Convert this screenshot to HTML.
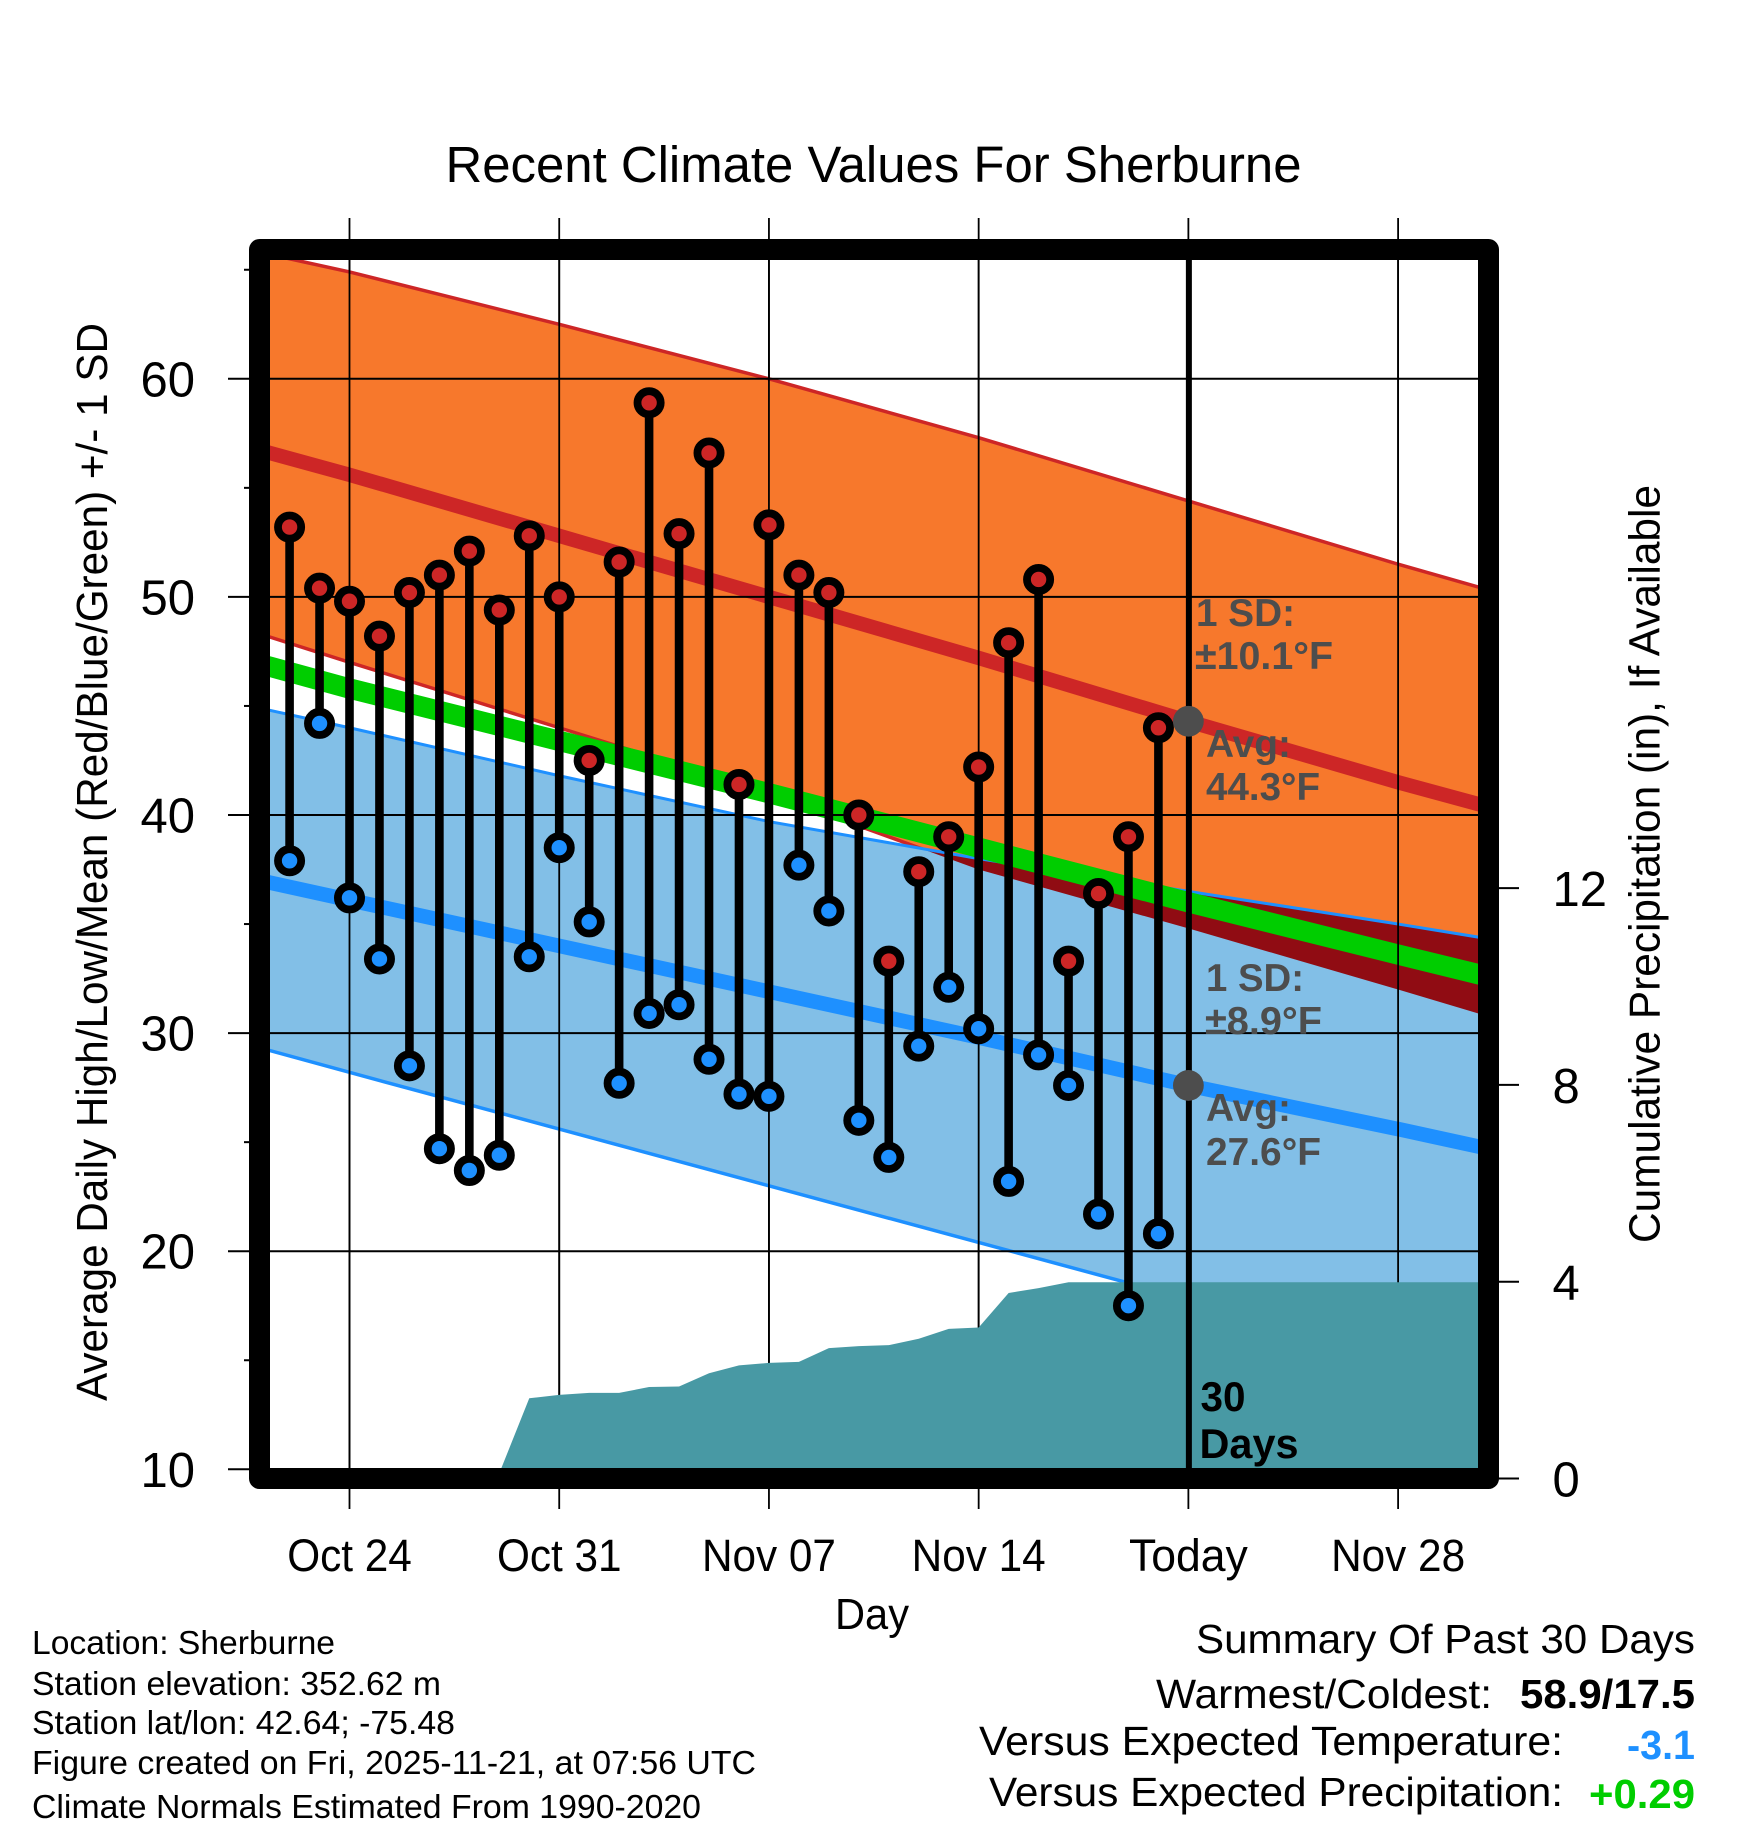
<!DOCTYPE html>
<html lang="en">
<head>
<meta charset="utf-8">
<title>Recent Climate Values For Sherburne</title>
<style>
html,body{margin:0;padding:0;background:#fff;width:1748px;height:1828px;overflow:hidden}
svg{display:block}
text{font-family:"Liberation Sans",Arial,sans-serif;fill:#000}
.b{font-weight:bold}
.g{font-weight:bold;fill:#4D4D4D;font-size:39px}
</style>
</head>
<body>
<svg id="chart" xmlns="http://www.w3.org/2000/svg" width="1748" height="1828" viewBox="0 0 1748 1828">
<defs>
<clipPath id="plot-clip"><rect x="270" y="260" width="1208" height="1208"/></clipPath>
<clipPath id="orange-clip"><path id="orange-clip-path" d=""/></clipPath>
</defs>
<g id="ticks"></g>
<g id="plot" clip-path="url(#plot-clip)"></g>
<rect x="259.5" y="249.5" width="1229" height="1229" fill="none" stroke="#000" stroke-width="21" stroke-linejoin="round"/>
<g id="labels"></g>

<text x="445.5" y="182" font-size="51" textLength="856" lengthAdjust="spacingAndGlyphs">Recent Climate Values For Sherburne</text>
<text transform="translate(107,1401) rotate(-90)" font-size="44" textLength="1078" lengthAdjust="spacingAndGlyphs">Average Daily High/Low/Mean (Red/Blue/Green) +/- 1 SD</text>
<text transform="translate(1659.5,1243) rotate(-90)" font-size="44" textLength="758" lengthAdjust="spacingAndGlyphs">Cumulative Precipitation (in), If Available</text>
<text x="835" y="1629" font-size="44" textLength="74" lengthAdjust="spacingAndGlyphs">Day</text>

<text class="g" x="1196" y="626" textLength="99" lengthAdjust="spacingAndGlyphs">1 SD:</text>
<text class="g" x="1195" y="669" textLength="138" lengthAdjust="spacingAndGlyphs">±10.1°F</text>
<text class="g" x="1206" y="757" textLength="85" lengthAdjust="spacingAndGlyphs">Avg:</text>
<text class="g" x="1206" y="800" textLength="114" lengthAdjust="spacingAndGlyphs">44.3°F</text>
<text class="g" x="1206" y="991" textLength="98" lengthAdjust="spacingAndGlyphs">1 SD:</text>
<text class="g" x="1205" y="1034" textLength="117" lengthAdjust="spacingAndGlyphs">±8.9°F</text>
<text class="g" x="1206" y="1121" textLength="85" lengthAdjust="spacingAndGlyphs">Avg:</text>
<text class="g" x="1206" y="1165" textLength="115" lengthAdjust="spacingAndGlyphs">27.6°F</text>

<text class="b" x="1200.5" y="1411" font-size="42" textLength="45" lengthAdjust="spacingAndGlyphs">30</text>
<text class="b" x="1199.5" y="1458" font-size="42" textLength="99" lengthAdjust="spacingAndGlyphs">Days</text>

<text x="32" y="1654" font-size="33" textLength="303" lengthAdjust="spacingAndGlyphs">Location: Sherburne</text>
<text x="32" y="1695" font-size="33" textLength="409" lengthAdjust="spacingAndGlyphs">Station elevation: 352.62 m</text>
<text x="32" y="1734" font-size="33" textLength="423" lengthAdjust="spacingAndGlyphs">Station lat/lon: 42.64; -75.48</text>
<text x="32" y="1774" font-size="33" textLength="724" lengthAdjust="spacingAndGlyphs">Figure created on Fri, 2025-11-21, at 07:56 UTC</text>
<text x="32" y="1818" font-size="33" textLength="669" lengthAdjust="spacingAndGlyphs">Climate Normals Estimated From 1990-2020</text>

<text x="1196" y="1653" font-size="41" textLength="499" lengthAdjust="spacingAndGlyphs">Summary Of Past 30 Days</text>
<text x="1156" y="1708" font-size="41" textLength="336" lengthAdjust="spacingAndGlyphs">Warmest/Coldest:</text>
<text class="b" x="1520" y="1708" font-size="41" textLength="175" lengthAdjust="spacingAndGlyphs">58.9/17.5</text>
<text x="979" y="1755" font-size="41" textLength="584" lengthAdjust="spacingAndGlyphs">Versus Expected Temperature:</text>
<text class="b" x="1627" y="1759" font-size="41" textLength="68" lengthAdjust="spacingAndGlyphs" style="fill:#1E90FF">-3.1</text>
<text x="989" y="1806" font-size="41" textLength="574" lengthAdjust="spacingAndGlyphs">Versus Expected Precipitation:</text>
<text class="b" x="1589" y="1808" font-size="41" textLength="106" lengthAdjust="spacingAndGlyphs" style="fill:#00CD00">+0.29</text>
</svg>

<script>
// Days are counted from Oct 24.
const xTickDays = [0, 7, 14, 21, 28, 35];
const xTickLabels = ['Oct 24', 'Oct 31', 'Nov 07', 'Nov 14', 'Today', 'Nov 28'];
const yMajorTicks = [10, 20, 30, 40, 50, 60];
const yMinorTicks = [15, 25, 35, 45, 55, 65];
const precipTicks = [0, 4, 8, 12];

const observedDays = [-2,-1,0,1,2,3,4,5,6,7,8,9,10,11,12,13,14,15,16,17,18,19,20,21,22,23,24,25,26,27];
const dailyHighs = [53.2,50.4,49.8,48.2,50.2,51.0,52.1,49.4,52.8,50.0,42.5,51.6,58.9,52.9,56.6,41.4,53.3,51.0,50.2,40.0,33.3,37.4,39.0,42.2,47.9,50.8,33.3,36.4,39.0,44.0];
const dailyLows = [37.9,44.2,36.2,33.4,28.5,24.7,23.7,24.4,33.5,38.5,35.1,27.7,30.9,31.3,28.8,27.2,27.1,37.7,35.6,26.0,24.3,29.4,32.1,30.2,23.2,29.0,27.6,21.7,17.5,20.8];

const normalDays = [-2.66,0,7,14,21,28,35,37.68];
const normalHigh = [56.6,55.6,52.8,50.0,47.2,44.3,41.5,40.5];
const normalHighUpper = [65.7,64.9,62.5,60.0,57.3,54.4,51.5,50.45];
const normalHighLower = [48.16,47.0,44.0,41.0,37.5,34.8,32.0,30.9];
const normalMean = [46.8,45.8,43.4,41.0,38.5,36.0,33.6,32.7];
const normalLow = [36.9,36.1,34.0,31.9,29.8,27.6,25.6,24.8];
const normalLowUpper = [44.8,44.0,41.8,39.7,38.0,36.5,35.0,34.4];
const normalLowLower = [29.2,28.2,25.6,23.0,20.4,17.8,15.2,14.1];

const precipDays = [4.93,6,7,8,9,10,11,12,13,14,15,16,17,18,19,20,21,22,23,24,25,26,27,37.7];
const precipValues = [0,1.63,1.70,1.74,1.74,1.86,1.87,2.14,2.30,2.35,2.37,2.65,2.69,2.71,2.84,3.04,3.07,3.77,3.87,3.99,3.99,3.99,3.99,3.99];

const todayDay = 28;
const todayHigh = 44.3;
const todayLow = 27.6;

function xScale(day) { return 349.5 + day * 29.96; }
function yTemp(v) { return 1469.3 - (v - 10) * 21.81; }
function yPrecip(p) { return 1478.5 - p * 49.2; }

const NS = 'http://www.w3.org/2000/svg';
function make(tag, parent, attrs) {
  const el = document.createElementNS(NS, tag);
  for (const k in attrs) el.setAttribute(k, attrs[k]);
  parent.appendChild(el);
  return el;
}
function linePath(days, values) {
  return days.map((d, i) => (i ? 'L' : 'M') + xScale(d).toFixed(2) + ' ' + yTemp(values[i]).toFixed(2)).join(' ');
}
function bandPath(days, upper, lower) {
  const top = days.map((d, i) => xScale(d).toFixed(2) + ' ' + yTemp(upper[i]).toFixed(2));
  const bottom = days.map((d, i) => xScale(d).toFixed(2) + ' ' + yTemp(lower[i]).toFixed(2)).reverse();
  return 'M' + top.concat(bottom).join(' L') + ' Z';
}

const ticks = document.getElementById('ticks');
const plot = document.getElementById('plot');
const labels = document.getElementById('labels');
const orangePath = bandPath(normalDays, normalHighUpper, normalHighLower);
document.getElementById('orange-clip-path').setAttribute('d', orangePath);

// Climate bands
const highBand = make('path', plot, { d: orangePath, fill: '#F7782C' });



const highLowerEdge = make('path', plot, { d: linePath(normalDays, normalHighLower), fill: 'none', stroke: '#CD2626', 'stroke-width': 3.5, 'stroke-linecap': 'square' });



const highUpperEdge = make('path', plot, { d: linePath(normalDays, normalHighUpper), fill: 'none', stroke: '#CD2626', 'stroke-width': 3.5, 'stroke-linecap': 'square' });



const lowBandPath = bandPath(normalDays, normalLowUpper, normalLowLower);
const lowBand = make('path', plot, { d: lowBandPath, fill: '#82BFE7' });



const overlapBand = make('path', plot, { d: lowBandPath, fill: '#900C13', 'clip-path': 'url(#orange-clip)' });



const lowUpperEdge = make('path', plot, { d: linePath(normalDays, normalLowUpper), fill: 'none', stroke: '#1E90FF', 'stroke-width': 3, 'stroke-linecap': 'square' });



const lowLowerEdge = make('path', plot, { d: linePath(normalDays, normalLowLower), fill: 'none', stroke: '#1E90FF', 'stroke-width': 3.5, 'stroke-linecap': 'square' });



const highLine = make('path', plot, { d: linePath(normalDays, normalHigh), fill: 'none', stroke: '#CD2626', 'stroke-width': 14.4, 'stroke-linecap': 'square' });



const lowLine = make('path', plot, { d: linePath(normalDays, normalLow), fill: 'none', stroke: '#1E90FF', 'stroke-width': 14.6, 'stroke-linecap': 'square' });



const meanLine = make('path', plot, { d: linePath(normalDays, normalMean), fill: 'none', stroke: '#00CD00', 'stroke-width': 20.3, 'stroke-linecap': 'square' });



// Grid lines and outer ticks
yMajorTicks.forEach((v) => {
  const grid = make('line', plot, { x1: 270, x2: 1478, y1: yTemp(v), y2: yTemp(v), stroke: '#000', 'stroke-width': 2 });
  
  
  const tick = make('line', ticks, { x1: 228, x2: 250, y1: yTemp(v), y2: yTemp(v), stroke: '#000', 'stroke-width': 2 });
  
  
  const label = make('text', labels, { x: 195, y: yTemp(v) + 17.5, 'font-size': 49, 'text-anchor': 'end' });
  
  
  label.textContent = String(v);
});
yMinorTicks.forEach((v) => {
  const tick = make('line', ticks, { x1: 244, x2: 250, y1: yTemp(v), y2: yTemp(v), stroke: '#000', 'stroke-width': 2 });
  
  
});
xTickDays.forEach((d, i) => {
  const gridLine = make('line', plot, { x1: xScale(d), x2: xScale(d), y1: 260, y2: 1468, stroke: '#000', 'stroke-width': 1.8 });
  
  
  const tick = make('line', ticks, { x1: xScale(d), x2: xScale(d), y1: 218, y2: 1509, stroke: '#000', 'stroke-width': 1.8 });
  
  
  const labelScale = xTickLabels[i] === 'Today' ? 0.99 : 0.94;
  const label = make('text', labels, { transform: 'translate(' + xScale(d) + ',1571) scale(' + labelScale + ',1)', 'font-size': 45, 'text-anchor': 'middle' });
  
  
  label.textContent = xTickLabels[i];
});
precipTicks.forEach((p) => {
  const tick = make('line', ticks, { x1: 1498, x2: 1519, y1: yPrecip(p), y2: yPrecip(p), stroke: '#000', 'stroke-width': 2 });
  
  
  const label = make('text', labels, { x: 1552.5, y: yPrecip(p) + 18, 'font-size': 49 });
  
  
  label.textContent = String(p);
});

// Cumulative precipitation area
const areaPoints = precipDays.map((d, i) => xScale(d).toFixed(2) + ' ' + yPrecip(precipValues[i]).toFixed(2));
const lastDay = precipDays[precipDays.length - 1];
const area = make('path', plot, {
  d: 'M' + areaPoints.join(' L') + ' L' + xScale(lastDay).toFixed(2) + ' ' + yPrecip(0) + ' L' + xScale(precipDays[0]).toFixed(2) + ' ' + yPrecip(0) + ' Z',
  fill: '#4899A4'
});



// Today marker
const todayLine = make('line', plot, { x1: xScale(todayDay) + 0.5, x2: xScale(todayDay) + 0.5, y1: 260, y2: 1468, stroke: '#000', 'stroke-width': 6 });



// Daily high/low stems
observedDays.forEach((d, i) => {
  const stem = make('line', plot, { x1: xScale(d), x2: xScale(d), y1: yTemp(dailyHighs[i]), y2: yTemp(dailyLows[i]), stroke: '#000', 'stroke-width': 8.6 });
  
  
});
observedDays.forEach((d, i) => {
  const hi = make('circle', plot, { cx: xScale(d), cy: yTemp(dailyHighs[i]), r: 11.6, fill: '#CD2626', stroke: '#000', 'stroke-width': 7.8 });
  
  
  const lo = make('circle', plot, { cx: xScale(d), cy: yTemp(dailyLows[i]), r: 11.6, fill: '#1E90FF', stroke: '#000', 'stroke-width': 7.8 });
  
  
});

const todayHighDot = make('circle', plot, { cx: xScale(todayDay), cy: yTemp(todayHigh), r: 15.4, fill: '#4D4D4D' });



const todayLowDot = make('circle', plot, { cx: xScale(todayDay), cy: yTemp(todayLow), r: 15.4, fill: '#4D4D4D' });


</script>
</body>
</html>
